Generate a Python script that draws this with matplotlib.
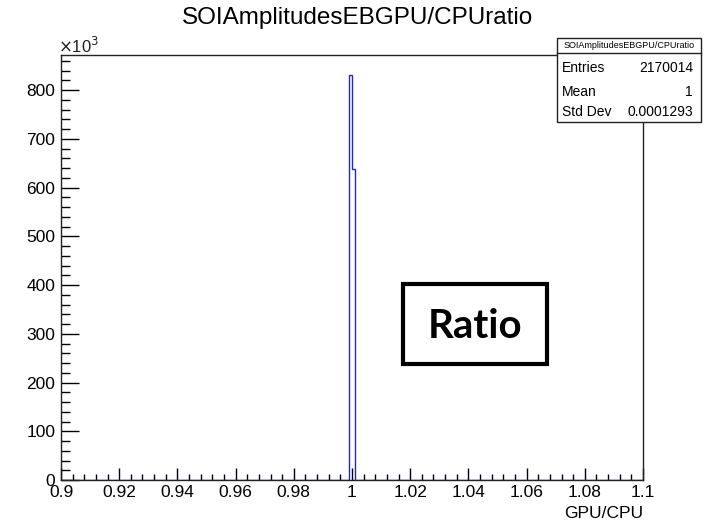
import numpy as np
import matplotlib
matplotlib.use("Agg")
import matplotlib.pyplot as plt
from matplotlib.patches import Rectangle
from matplotlib.ticker import MultipleLocator, FuncFormatter

# ---- data ----
title = "SOIAmplitudesEBGPU/CPUratio"
xlabel = "GPU/CPU"
bin_centers = [0.9995, 1.0005]          # GPU/CPU ratio bins (width 0.001)
bin_counts = [831, 638]                  # entries, x10^3
x_range = (0.9, 1.1)
n_bins = 200
y_max = 872
stats_labels = ["Entries", "Mean", "Std Dev"]
stats_values = ["2170014", "1", "0.0001293"]
annotation = "Ratio"

W, H = 713, 521
fig = plt.figure(figsize=(W / 100, H / 100), dpi=100)
plt.rcParams['font.family'] = ['Liberation Sans', 'DejaVu Sans']

def fx(px):
    return px / W

def fy(py):
    return 1 - py / H

ax_l, ax_r, ax_t, ax_b = 61, 643, 55, 480
ax = fig.add_axes([fx(ax_l), fy(ax_b), fx(ax_r - ax_l), (ax_b - ax_t) / H])

edges = np.linspace(x_range[0], x_range[1], n_bins + 1)
ax.hist(bin_centers, bins=edges, weights=bin_counts, histtype='step',
        color='#2525d0', linewidth=1.0)

ax.set_xlim(*x_range)
ax.set_ylim(0, y_max)

ax.xaxis.set_major_locator(MultipleLocator(0.02))
ax.xaxis.set_minor_locator(MultipleLocator(0.004))
ax.yaxis.set_major_locator(MultipleLocator(100))
ax.yaxis.set_minor_locator(MultipleLocator(20))

def xfmt(v, pos):
    s = f"{v:.2f}".rstrip('0').rstrip('.')
    return s
ax.xaxis.set_major_formatter(FuncFormatter(xfmt))
ax.yaxis.set_major_formatter(FuncFormatter(lambda v, p: f"{int(round(v))}"))

ax.tick_params(axis='x', which='major', direction='in', length=8.6, width=1.0,
               labelsize=12.5, pad=3.5, top=False)
ax.tick_params(axis='x', which='minor', direction='in', length=4.3, width=1.0, top=False)
ax.tick_params(axis='y', which='major', direction='in', length=13, width=1.0,
               labelsize=12.5, pad=4, right=False)
ax.tick_params(axis='y', which='minor', direction='in', length=6.5, width=1.0, right=False)
for s in ax.spines.values():
    s.set_linewidth(1.0)
    s.set_color('#222222')

fig.text(fx(58), fy(46), r"$\times$10$^{3}$", fontsize=12,
         ha='left', va='center', color='#222222')

fig.text(fx(ax_r), fy(513), xlabel, ha='right', va='center', fontsize=12.5)
fig.text(fx(358), fy(18), title, ha='center', va='center', fontsize=17.5)

# stats box
bx0, bx1, by0, bdiv, by1 = 557, 701, 38, 53, 122
fig.patches.append(Rectangle((fx(bx0), fy(by1)), fx(bx1 - bx0), (by1 - by0) / H,
                             transform=fig.transFigure, facecolor='white',
                             edgecolor='#222222', linewidth=1.0, zorder=5))
fig.lines.append(plt.Line2D([fx(bx0), fx(bx1)], [fy(bdiv), fy(bdiv)],
                            transform=fig.transFigure, color='#222222',
                            linewidth=1.0, zorder=6))
fig.text(fx((bx0 + bx1) / 2), fy(46), title, ha='center', va='center',
         fontsize=6.5, zorder=7)
rows_y = [68, 92, 112]
for lab, val, yy in zip(stats_labels, stats_values, rows_y):
    fig.text(fx(bx0 + 5), fy(yy), lab, ha='left', va='center', fontsize=10, zorder=7)
    fig.text(fx(bx1 - 8), fy(yy), val, ha='right', va='center', fontsize=10, zorder=7)

# annotation box
rx0, rx1, ry0, ry1 = 403, 547, 284, 364
fig.patches.append(Rectangle((fx(rx0), fy(ry1)), fx(rx1 - rx0), (ry1 - ry0) / H,
                             transform=fig.transFigure, facecolor='white',
                             edgecolor='black', linewidth=3.0, zorder=5))
fig.text(fx(475), fy(326), annotation, ha='center', va='center', fontsize=29,
         fontweight='bold', family=['Lato', 'DejaVu Sans'], zorder=7)

fig.savefig("out.png", dpi=100)
